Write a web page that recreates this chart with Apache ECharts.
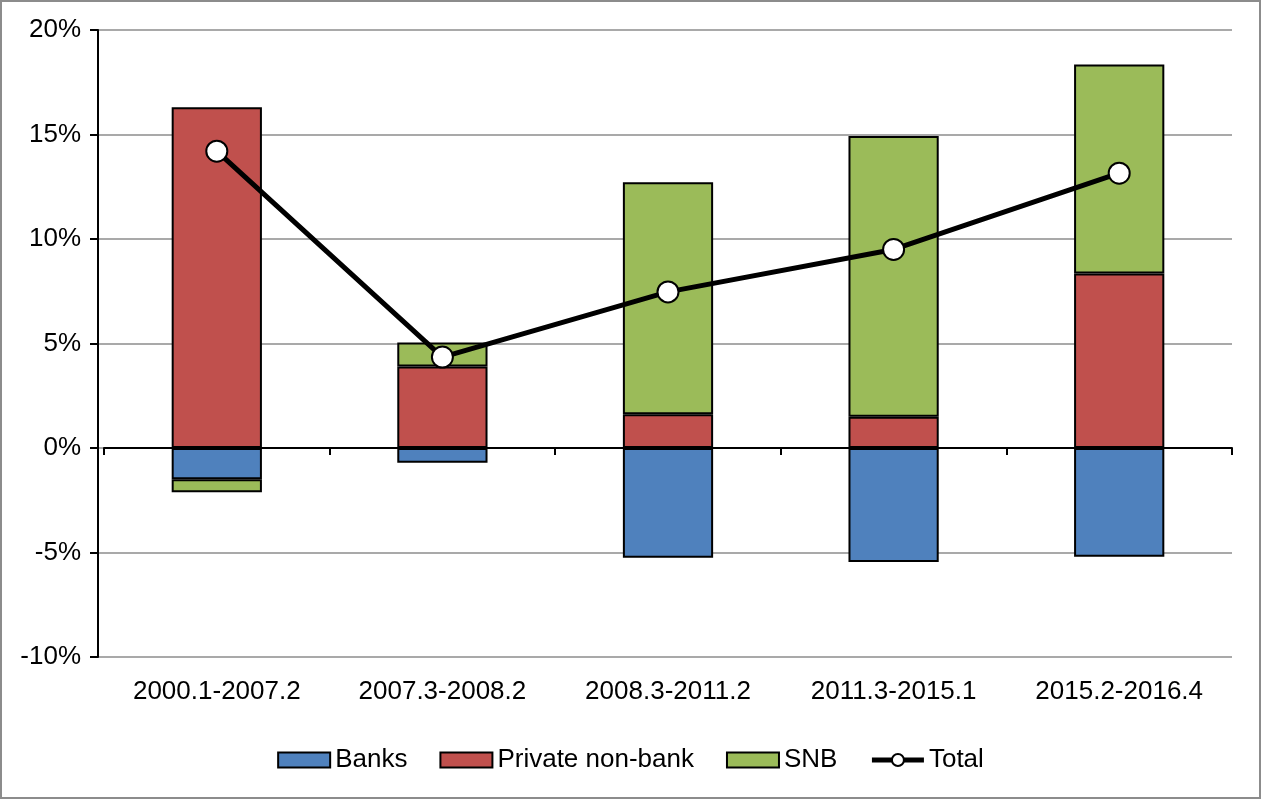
<!DOCTYPE html>
<html>
<head>
<meta charset="utf-8">
<script src="https://cdn.jsdelivr.net/npm/echarts@6/dist/echarts.min.js"></script>
<style>
  html, body { margin: 0; padding: 0; background: #fff; }
  #chart { width: 1261px; height: 799px; box-sizing: border-box; border: 2px solid #8c8c8c; }
</style>
</head>
<body>
<div id="chart"></div>
<script>
  // periods and contributions (in %)
  const periods = ['2000.1-2007.2', '2007.3-2008.2', '2008.3-2011.2', '2011.3-2015.1', '2015.2-2016.4'];
  const banks = [-1.5, -0.7, -5.25, -5.45, -5.2];
  const privateNonBank = [16.3, 3.9, 1.62, 1.5, 8.35];
  const snb = [-0.62, 1.15, 11.1, 13.43, 10.0];
  const total = [14.2, 4.35, 7.47, 9.5, 13.15];

  const chart = echarts.init(document.getElementById('chart'));
  const font = 'Liberation Sans, Arial, sans-serif';

  function barSeries(name, data, color) {
    return {
      name: name, type: 'bar', stack: 'all', data: data, barWidth: '40%',
      xAxisIndex: 1, yAxisIndex: 1,
      itemStyle: { color: color, borderColor: '#000', borderWidth: 2 }
    };
  }

  chart.setOption({
    animation: false,
    textStyle: { fontFamily: font },
    // grid 0 carries the value axis and gridlines, grid 1 the bars (slightly inset, like the original)
    grid: [
      { left: 96, right: 27, top: 28, bottom: 140 },
      { left: 102, right: 27, top: 28, bottom: 140 }
    ],
    legend: {
      top: 740, itemGap: 32, itemWidth: 52, itemHeight: 15,
      textStyle: { fontSize: 26, color: '#000', fontFamily: font },
      data: [
        { name: 'Banks', icon: 'rect', itemStyle: { borderColor: '#000', borderWidth: 2 } },
        { name: 'Private non-bank', icon: 'rect', itemStyle: { borderColor: '#000', borderWidth: 2 } },
        { name: 'SNB', icon: 'rect', itemStyle: { borderColor: '#000', borderWidth: 2 } },
        { name: 'Total', lineStyle: { width: 5, color: '#000' } }
      ]
    },
    xAxis: [
      { type: 'category', gridIndex: 0, data: periods, show: false },
      {
        type: 'category', gridIndex: 1, data: periods,
        axisLine: { onZero: true, lineStyle: { color: '#000', width: 2 } },
        axisTick: { show: true, length: 7, lineStyle: { color: '#000', width: 2 } },
        axisLabel: { show: false }
      },
      {
        type: 'category', gridIndex: 1, data: periods, position: 'bottom',
        axisLine: { show: false }, axisTick: { show: false },
        axisLabel: { fontSize: 26, color: '#000', margin: 22 }
      }
    ],
    yAxis: [
      {
        type: 'value', gridIndex: 0, min: -10, max: 20, interval: 5,
        axisLine: { show: true, lineStyle: { color: '#000', width: 2 } },
        axisTick: { show: true, length: 8, lineStyle: { color: '#000', width: 2 } },
        axisLabel: { fontSize: 26, color: '#000', margin: 17, formatter: '{value}%' },
        splitLine: { lineStyle: { color: '#8c8c8c', width: 1.5 } }
      },
      {
        type: 'value', gridIndex: 1, min: -10, max: 20, interval: 5, show: false,
        splitLine: { show: false }
      }
    ],
    series: [
      barSeries('Banks', banks, '#4F81BD'),
      barSeries('Private non-bank', privateNonBank, '#C0504D'),
      barSeries('SNB', snb, '#9BBB59'),
      {
        name: 'Total', type: 'line', data: total, xAxisIndex: 1, yAxisIndex: 1,
        symbol: 'circle', symbolSize: 21,
        lineStyle: { color: '#000', width: 5 },
        itemStyle: { color: '#fff', borderColor: '#000', borderWidth: 2 },
        z: 5
      }
    ]
  });
</script>
</body>
</html>
